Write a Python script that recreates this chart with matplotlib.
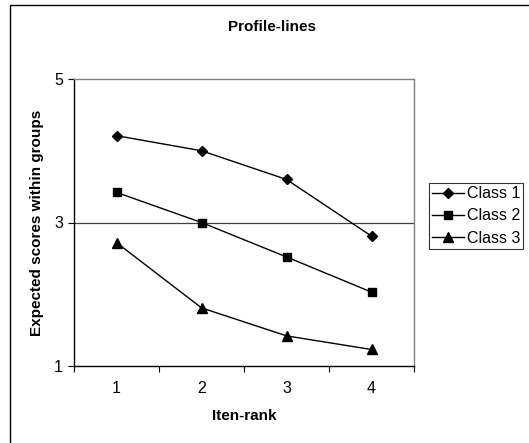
import matplotlib
matplotlib.use('Agg')
import matplotlib.pyplot as plt
from matplotlib.patches import Rectangle

plt.rcParams['font.family'] = ['Liberation Sans', 'DejaVu Sans']

ranks = [1, 2, 3, 4]
class1 = [4.21, 4.00, 3.60, 2.81]
class2 = [3.42, 3.00, 2.52, 2.03]
class3 = [2.72, 1.81, 1.42, 1.23]
series_names = ['Class 1', 'Class 2', 'Class 3']
y_ticks = [1, 3, 5]

W, H = 529, 443
fig = plt.figure(figsize=(W / 100, H / 100), dpi=100)

# outer chart frame (runs off the right/bottom edge like the screenshot)
fig.patches.append(Rectangle((10 / W, -0.05), 1.1, 1 - 5 / H + 0.05,
                             transform=fig.transFigure, fill=False,
                             edgecolor='black', linewidth=1.0))

ax = fig.add_axes([74 / W, 1 - 366 / H, 340 / W, 287 / H])

markers = ['D', 's', '^']
sizes = [5.5, 6, 7]
for vals, name, m, s in zip([class1, class2, class3], series_names, markers, sizes):
    ax.plot(ranks, vals, color='black', linewidth=1.0, marker=m, markersize=s,
            label=name, clip_on=False, zorder=3)

ax.set_xlim(0.5, 4.5)
ax.set_ylim(1, 5)
ax.set_yticks(y_ticks)
ax.set_xticks(ranks)
ax.set_xticks([0.5, 1.5, 2.5, 3.5, 4.5], minor=True)
ax.tick_params(axis='x', which='major', length=0, pad=11, labelsize=11.5)
ax.tick_params(axis='x', which='minor', length=4, direction='out', width=0.8)
ax.tick_params(axis='y', length=4, direction='out', width=0.8, labelsize=11.5, pad=4)
ax.axhline(3, color='#404040', linewidth=0.9, zorder=1)

for side in ['top', 'right']:
    ax.spines[side].set_color('#808080')
for side in ['left', 'bottom']:
    ax.spines[side].set_color('black')
for sp in ax.spines.values():
    sp.set_linewidth(1.0)

ax.set_xlabel('Iten-rank', fontsize=11, fontweight='bold', labelpad=9)
ax.set_ylabel('Expected scores within groups', fontsize=11, fontweight='bold', labelpad=7)
fig.text(272 / W, 1 - 27 / H, 'Profile-lines', ha='center', va='center',
         fontsize=11, fontweight='bold')

leg = fig.legend(loc='upper left', bbox_to_anchor=(429 / W, 1 - 183 / H),
                 frameon=True, fancybox=False, fontsize=11.5, handlelength=2.0,
                 borderpad=0.2, labelspacing=0.45, handletextpad=0.15,
                 borderaxespad=0)
leg.get_frame().set_edgecolor('black')
leg.get_frame().set_linewidth(0.8)

fig.savefig('out.png', dpi=100)
